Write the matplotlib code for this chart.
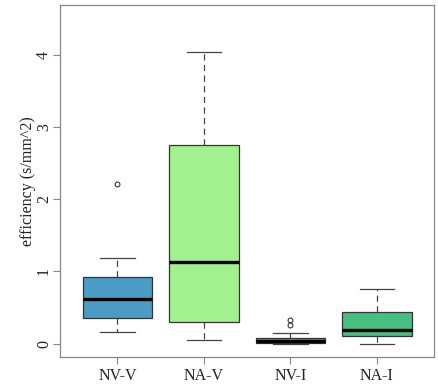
import matplotlib
matplotlib.use("Agg")
import matplotlib.pyplot as plt

plt.rcParams['font.family'] = ['Liberation Serif', 'DejaVu Serif']

# groups and box statistics
groups = ["NV-V", "NA-V", "NV-I", "NA-I"]
lower_whisker = [0.157, 0.055, 0.0, 0.0]
q1 = [0.36, 0.30, 0.014, 0.105]
median = [0.62, 1.128, 0.036, 0.189]
q3 = [0.924, 2.755, 0.083, 0.434]
upper_whisker = [1.18, 4.036, 0.152, 0.757]
outliers = [[2.205], [], [0.26, 0.33], []]
colors = ["#4a9cc4", "#a2f08e", "#2bb5b0", "#47bf80"]

stats = []
for i, g in enumerate(groups):
    stats.append(dict(label=g, whislo=lower_whisker[i], q1=q1[i], med=median[i],
                      q3=q3[i], whishi=upper_whisker[i], fliers=outliers[i]))

fig = plt.figure(figsize=(4.39, 3.85), dpi=100)
ax = fig.add_axes([0.1374, 0.0735, 0.8512, 0.9125])

bp = ax.bxp(stats, positions=range(1, 5), widths=0.8, patch_artist=True,
            boxprops=dict(edgecolor="#333333", linewidth=0.9),
            medianprops=dict(color="black", linewidth=2.4, solid_capstyle="butt"),
            whiskerprops=dict(color="#444444", linewidth=0.9, linestyle=(0, (5, 3.5))),
            capprops=dict(color="#444444", linewidth=0.9),
            capwidths=0.4,
            flierprops=dict(marker="o", markersize=3.5, markerfacecolor="none",
                            markeredgecolor="#333333", markeredgewidth=0.8))
for patch, c in zip(bp["boxes"], colors):
    patch.set_facecolor(c)

ax.set_xlim(0.34, 4.66)
ax.set_ylim(-0.18, 4.68)
ax.set_yticks([0, 1, 2, 3, 4])
ax.set_yticklabels(["0", "1", "2", "3", "4"], rotation=90, va="center")
ax.set_xticks([1, 2, 3, 4])
ax.set_xticklabels(groups)
ax.tick_params(axis="both", labelsize=11.5, colors="#888888", labelcolor="#222222",
               length=5, width=0.8, pad=3)
ax.tick_params(axis="y", pad=1)
ax.set_ylabel("efficiency (s/mm^2)", fontsize=11.5, color="#222222", labelpad=0)
for s in ax.spines.values():
    s.set_color("#888888")
    s.set_linewidth(0.9)

fig.savefig("out.png", dpi=100)
